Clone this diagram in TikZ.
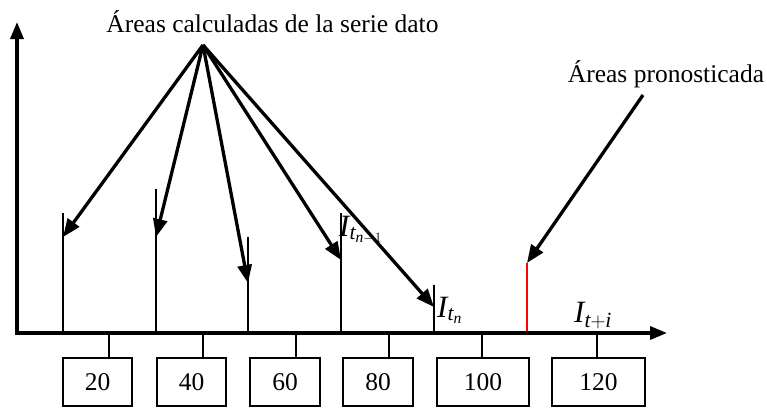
\documentclass[tikz,border=0pt]{standalone}
\usepackage{fontspec}
\setmainfont{Liberation Serif}
\usetikzlibrary{arrows.meta, positioning}
\tikzset{
  axis/.style={line width=3.2pt},
  bar/.style={line width=1.8pt},
  pointer/.style={line width=3.3pt, -{Triangle[length=18pt, width=14pt]}},
  valbox/.style={draw, line width=1.3pt, minimum height=48pt, inner sep=0pt},
  tick/.style={line width=1.5pt},
  ilabel/.style={anchor=base west, inner sep=0pt, font=\fontsize{31}{33}\selectfont}
}

\begin{document}
\begin{tikzpicture}[x=1pt, y=-1pt, every node/.style={font=\fontsize{25.5}{28}\selectfont}]
    \useasboundingbox (0,0) rectangle (767,407);

        % Axis points
        \coordinate (O) at (17,333);
        \coordinate (ytop) at (17,22);
        \coordinate (xend) at (667,333);

        % Data bars
        \foreach \name/\x/\top in {b1/63/213, b2/156/189, b3/248/237, b4/341/213, b5/434/285} {
            \coordinate (\name) at (\x,\top);
            \draw[bar] (\name) -- (\name |- O);
        }
        % Forecast bar
        \coordinate (fc) at (527,263);
        \draw[bar, red] (fc) -- (fc |- O);

        % Axes
        \draw[axis, {Triangle[length=17pt, width=13pt]}-{Triangle[length=17pt, width=13pt]}] (ytop) -- (O) -- (xend);

        % Value boxes
        \node[valbox, minimum width=69pt] (v20) at (97.5,382) {20};
        \node[valbox, minimum width=69pt] (v40) at (191.5,382) {40};
        \node[valbox, minimum width=70pt] (v60) at (285,382) {60};
        \node[valbox, minimum width=70pt] (v80) at (378,382) {80};
        \node[valbox, minimum width=92pt] (v100) at (483,382) {100};
        \node[valbox, minimum width=93pt] (v120) at (598.5,382) {120};

        % Ticks
        \foreach \k/\x/\v in {k1/109/v20, k2/203/v40, k3/296/v60, k4/389/v80, k5/482/v100, k6/597/v120} {
            \coordinate (\k) at (\x,333);
            \draw[tick] (\k) -- (\k |- \v.north);
        }

        % Labels
        \node[anchor=base] (calc) at (272.5,32) {Áreas calculadas de la serie dato};
        \node[anchor=base] (pron) at (666,82) {Áreas pronosticada};
        \node[ilabel] (itn1) at (339,236) {$\mathit{I}_{\mathit{t}_{\mathit{n}-1}}$};
        \node[ilabel] (itn) at (437,317) {$\mathit{I}_{\mathit{t}_{\mathit{n}}}$};
        \node[ilabel] (iti) at (574,322) {$\mathit{I}_{\mathit{t}+\mathit{i}}$};

        % Arrows from labels
        \coordinate (apex) at (203,45);
        \coordinate (a1) at (63,237);
        \coordinate (a2) at (156,237);
        \coordinate (a3) at (248,283);
        \coordinate (a4) at (341,260);
        \coordinate (a5) at (434,307);
        \foreach \t in {a1,a2,a3,a4,a5}
            \draw[pointer] (apex) -- (\t);
        \coordinate (pstart) at (643,95);
        \draw[pointer] (pstart) -- (fc);
    \end{tikzpicture}
\end{document}
